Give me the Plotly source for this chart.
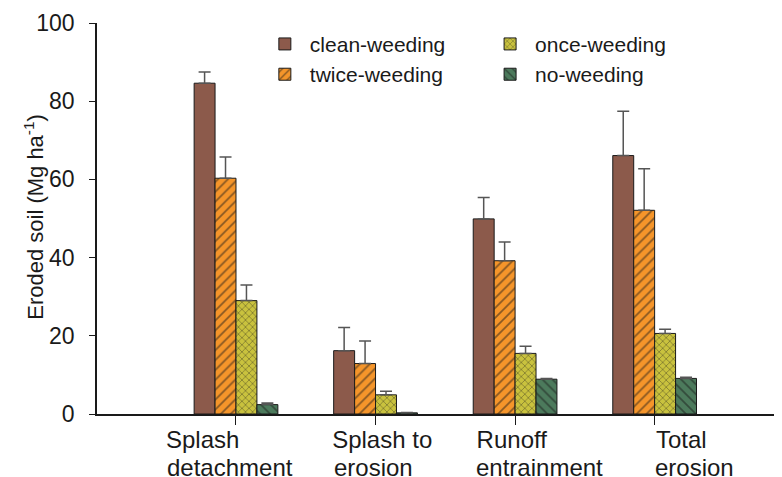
import plotly.graph_objects as go

NB = "\u00a0"
categories = ["Splash detachment", "Splash to erosion", "Runoff entrainment", "Total erosion"]
# two-line category labels (line 1 as tick labels, line 2 as annotations)
label_line1 = ["Splash" + NB * 10, NB * 2 + "Splash to", "Runoff" + NB * 1, NB * 8 + "Total"]
label_line2 = ["detachment", "erosion", "entrainment", "erosion"]
series_names = ["clean-weeding", "twice-weeding", "once-weeding", "no-weeding"]
clean = [84.6, 16.2, 49.9, 66.1]
clean_err = [2.9, 5.9, 5.5, 11.3]
twice = [60.3, 12.9, 39.2, 52.1]
twice_err = [5.4, 5.8, 4.8, 10.6]
once = [29.0, 4.9, 15.5, 20.6]
once_err = [4.0, 0.9, 1.8, 1.1]
noweed = [2.4, 0.3, 8.9, 9.1]
noweed_err = [0.4, 0.1, 0.2, 0.3]
y_title = "Eroded soil (Mg ha<sup>-1</sup>)"

values = [clean, twice, once, noweed]
errors = [clean_err, twice_err, once_err, noweed_err]
colors = ["#8C5A4B", "#F5952A", "#C9C23E", "#4C7A5C"]
shapes = ["", "/", "x", "\\"]
pat_sizes = [8, 7, 5, 7]
legends = ["legend", "legend", "legend2", "legend2"]
line2_shift = [-71, -44, -41, -2]

FONT = "Arial, Liberation Sans, sans-serif"

fig = go.Figure()
for name, v, e, c, s, ps, lg in zip(series_names, values, errors, colors, shapes, pat_sizes, legends):
    fig.add_trace(go.Bar(
        name=name, x=categories, y=v,
        marker=dict(color=c, line=dict(color="#1a1a1a", width=1),
                    pattern=dict(shape=s, fgcolor="#1a1a1a", bgcolor=c, size=ps, solidity=0.25)),
        error_y=dict(type="data", array=e, arrayminus=[0] * len(e), symmetric=False,
                     color="#555555", thickness=1.5, width=6),
        legend=lg, legendgroup=name,
    ))

annotations = [dict(text=y_title, textangle=-90, xref="paper", yref="paper",
                    x=-0.092, y=0.505, xanchor="center", yanchor="middle",
                    showarrow=False, font=dict(size=22, family=FONT))]
for cat, line2, sh in zip(categories, label_line2, line2_shift):
    annotations.append(dict(text=line2, x=cat, xref="x", y=0, yref="paper",
                            xanchor="left", yanchor="top", yshift=-38, xshift=sh,
                            showarrow=False, font=dict(size=24, family=FONT)))

fig.update_layout(
    width=782, height=477,
    margin=dict(l=89, r=0, t=15, b=71, autoexpand=False),
    paper_bgcolor="white", plot_bgcolor="white",
    barmode="group", bargap=0.4, bargroupgap=0,
    font=dict(family=FONT, color="#1a1a1a"),
    showlegend=True,
    legend=dict(x=0.235, y=0.998, xanchor="left", yanchor="top", orientation="v",
                font=dict(size=21, family=FONT), tracegroupgap=0, itemwidth=40,
                bgcolor="rgba(0,0,0,0)"),
    legend2=dict(x=0.56, y=0.998, xanchor="left", yanchor="top", orientation="v",
                 font=dict(size=21, family=FONT), tracegroupgap=0, itemwidth=40,
                 bgcolor="rgba(0,0,0,0)"),
    xaxis=dict(type="category", categoryarray=categories, range=[-0.996, 3.97],
               showline=True, linecolor="#1a1a1a", linewidth=2,
               tickmode="array", tickvals=categories, ticktext=label_line1, tickangle=0,
               ticks="outside", ticklen=9, tickcolor="#1a1a1a", tickwidth=1, automargin=False,
               ticklabelstandoff=-6,
               tickfont=dict(size=24, family=FONT), showgrid=False, zeroline=False),
    yaxis=dict(range=[0, 100], dtick=20, showline=True, linecolor="#1a1a1a", linewidth=1.5,
               ticks="outside", ticklen=6, tickcolor="#1a1a1a", automargin=False,
               ticklabelstandoff=10,
               tickfont=dict(size=23, family=FONT), showgrid=False, zeroline=False),
    annotations=annotations,
)

fig.write_html("out.html")
